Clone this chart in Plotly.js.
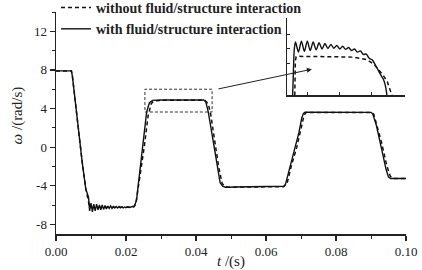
<!DOCTYPE html>
<html>
<head>
<meta charset="utf-8">
<script src="https://cdn.plot.ly/plotly-3.0.1.min.js"></script>
<style>html,body{margin:0;padding:0;background:#fff;}#chart{width:422px;height:270px;}</style>
</head>
<body>
<div id="chart"></div>
<script>
// ---- main series ----
var tWithout = [0,0.0044,0.0047,0.0055,0.0065,0.0075,0.0085,0.0092,0.0096,0.0110,0.0200,0.0222,0.0228,0.0235,0.0252,0.0263,0.0272,0.0280,0.0300,0.0425,0.0435,0.0442,0.0452,0.0465,0.0475,0.0485,0.0490,0.0650,0.0660,0.0672,0.0688,0.0700,0.0708,0.0714,0.0900,0.0908,0.0918,0.0930,0.0945,0.0955,0.0962,0.1000];
var wWithout = [7.9,7.9,7.3,4.6,1.5,-1.6,-4.3,-5.8,-6.2,-6.25,-6.25,-6.2,-5.9,-4.3,0,3.2,4.5,4.8,4.85,4.85,4.5,3.4,1.0,-2.1,-3.8,-4.1,-4.15,-4.1,-3.8,-2.0,0.0,1.9,3.2,3.6,3.6,3.4,2.2,0.5,-1.9,-3.0,-3.25,-3.25];

var tWith = [0,0.0044,0.0047,0.0055,0.0065,0.0075,0.0085,0.0089,0.0091,0.0093,0.0096,
  0.0100,0.0104,0.0108,0.0112,0.0116,0.0120,0.0124,0.0128,0.0132,0.0136,0.0140,0.0144,0.0148,0.0152,0.0156,0.0160,0.0164,0.0168,0.0172,0.0176,0.0180,0.0184,0.0188,0.0192,0.0196,0.0200,0.0204,0.0210,
  0.0218,0.0224,0.0230,0.0248,0.0259,0.0267,0.0276,0.0300,0.0422,0.0428,0.0435,0.0446,0.0458,0.0469,0.0476,0.0484,0.0550,0.0652,0.0656,0.0669,0.0683,0.0694,0.0702,0.0707,0.0712,0.0900,0.0905,0.0915,0.0931,0.0943,0.0950,0.0956,0.1000];
var wWith = [7.9,7.9,7.3,4.6,1.5,-1.6,-4.3,-4.7,-5.1,-5.2,-6.6,
  -5.8,-6.7,-5.9,-6.6,-5.9,-6.5,-6.0,-6.5,-6.0,-6.45,-6.05,-6.4,-6.1,-6.35,-6.1,-6.35,-6.15,-6.3,-6.15,-6.3,-6.15,-6.3,-6.2,-6.3,-6.2,-6.28,-6.2,-6.25,
  -6.2,-6.1,-5.5,0,3.65,4.6,4.85,4.9,4.88,4.7,3.65,1.3,-1.4,-3.7,-4.05,-4.15,-4.1,-4.05,-3.8,-2.0,-0.3,1.5,3.0,3.5,3.62,3.6,3.45,2.3,-0.3,-2.3,-3.1,-3.25,-3.25];

// ---- inset (magnified view, arbitrary units) ----
var uWith = [0.048,0.055,0.062,0.072,0.097,0.122,0.147,0.172,0.197,0.222,0.247,0.272,0.297,0.322,0.347,0.372,0.397,0.422,0.447,0.472,0.497,0.522,0.547,0.572,0.597,0.622,0.647,0.672,0.697,0.722,0.747,0.772,0.797,0.817,0.832,0.842,0.847];
var vWith = [0,0.35,0.6,0.69,0.56,0.70,0.57,0.70,0.58,0.69,0.59,0.68,0.60,0.67,0.605,0.66,0.61,0.645,0.60,0.635,0.595,0.62,0.58,0.60,0.56,0.575,0.53,0.535,0.48,0.46,0.40,0.33,0.26,0.21,0.14,0.06,0];
var uWithout = [0.066,0.068,0.071,0.078,0.10,0.40,0.55,0.62,0.68,0.74,0.78,0.82,0.85,0.87,0.88,0.89];
var vWithout = [0,0.3,0.45,0.5,0.505,0.50,0.495,0.48,0.46,0.40,0.33,0.25,0.18,0.10,0.04,0];

var xTickVals = [0,0.02,0.04,0.06,0.08,0.10];
var xTickText = ['0.00','0.02','0.04','0.06','0.08','0.10'];
var yTickVals = [-8,-4,0,4,8,12];
var yTickText = ['-8','-4','0','4','8','12'];
var insetXTicks = [0.17,0.445,0.72];
var insetYTicks = [0.41,0.60,0.79];

var seriesNames = ['without fluid/structure interaction','with fluid/structure interaction'];
var yTitle = '<i>ω</i> /(rad/s)';
var xTitle = '<i>t</i> /(s)';

var serif = '"Liberation Serif", "DejaVu Serif", serif';

var traces = [
  {x:tWithout, y:wWithout, mode:'lines', name:seriesNames[0],
   line:{color:'#111', width:1.5, dash:'4px,3px'}, xaxis:'x', yaxis:'y'},
  {x:tWith, y:wWith, mode:'lines', name:seriesNames[1],
   line:{color:'#111', width:1.4}, xaxis:'x', yaxis:'y'},
  {x:uWithout, y:vWithout, mode:'lines', showlegend:false,
   line:{color:'#111', width:1.5, dash:'4px,3px'}, xaxis:'x2', yaxis:'y2'},
  {x:uWith, y:vWith, mode:'lines', showlegend:false,
   line:{color:'#111', width:1.4, shape:'spline', smoothing:0.8}, xaxis:'x2', yaxis:'y2'}
];

var layout = {
  width:422, height:270,
  margin:{l:56, r:16, t:12, b:36, autoexpand:false},
  paper_bgcolor:'#fff', plot_bgcolor:'rgba(0,0,0,0)',
  font:{family:serif, size:13, color:'#222'},
  showlegend:true,
  legend:{x:0.0, xanchor:'left', y:1.09, yanchor:'top', bgcolor:'rgba(0,0,0,0)',
          font:{family:serif, size:14, color:'#222', weight:'bold'}, tracegroupgap:0, itemwidth:30},
  xaxis:{range:[0,0.1], tickvals:xTickVals, ticktext:xTickText, showline:true, linecolor:'#222', linewidth:1.5,
         ticks:'outside', ticklen:5, tickwidth:1.2, tickcolor:'#222', showgrid:false, zeroline:false,
         minor:{dtick:0.01, ticks:'outside', ticklen:3, tickwidth:1, tickcolor:'#222'},
         tickfont:{family:serif, size:13, color:'#222'},
         title:{text:xTitle, font:{family:serif, size:15, color:'#222'}, standoff:5}},
  yaxis:{range:[-9,14], tickvals:yTickVals, ticktext:yTickText, showline:true, linecolor:'#222', linewidth:1.5,
         ticks:'outside', ticklen:5, tickwidth:1.2, tickcolor:'#222', showgrid:false, zeroline:false,
         minor:{dtick:2, tick0:0, ticks:'outside', ticklen:3, tickwidth:1, tickcolor:'#222'},
         tickfont:{family:serif, size:13, color:'#222'}},
  xaxis2:{domain:[0.66,0.997], anchor:'y2', range:[0,1], showline:true, linecolor:'#222', linewidth:1.5,
          tickvals:insetXTicks, showticklabels:false, ticks:'inside', ticklen:3, tickcolor:'#222',
          showgrid:false, zeroline:false},
  yaxis2:{domain:[0.624,0.973], anchor:'x2', range:[0,1], showline:true, linecolor:'#222', linewidth:1.5,
          tickvals:insetYTicks, showticklabels:false, ticks:'inside', ticklen:3, tickcolor:'#222',
          showgrid:false, zeroline:false},
  shapes:[
    {type:'rect', xref:'x', yref:'y', x0:0.0254, x1:0.0446, y0:3.64, y1:6.0,
     line:{color:'#333', width:1, dash:'3px,2px'}}
  ],
  annotations:[
    {xref:'x', yref:'y', x:0.0731, y:8.07, axref:'x', ayref:'y', ax:0.046, ay:6.0,
     text:'', showarrow:true, arrowhead:2, arrowsize:1, arrowwidth:1, arrowcolor:'#222'},
    {xref:'paper', yref:'paper', x:-0.111, y:0.535, xanchor:'center', yanchor:'middle',
     text:yTitle, textangle:-90, showarrow:false, font:{family:serif, size:15, color:'#222'}}
  ]
};

Plotly.newPlot('chart', traces, layout, {staticPlot:true, displayModeBar:false});
</script>
</body>
</html>
